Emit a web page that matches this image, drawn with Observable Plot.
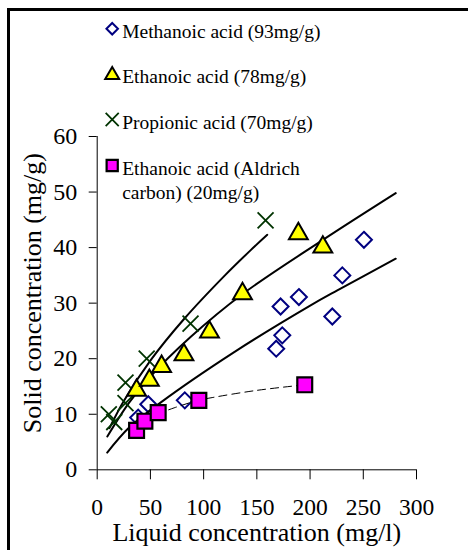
<!DOCTYPE html>
<html><head><meta charset="utf-8">
<script src="https://cdn.jsdelivr.net/npm/d3@7"></script>
<script src="https://cdn.jsdelivr.net/npm/@observablehq/plot@0.6"></script>
<style>
html,body{margin:0;padding:0;background:#fff;width:468px;height:550px;overflow:hidden;}
#wrap{position:relative;width:468px;height:550px;}
#frame{position:absolute;left:7px;top:8px;width:520px;height:620px;border:3px solid #000;box-sizing:border-box;pointer-events:none;}
#chart{position:absolute;left:0;top:0;}
</style></head><body><div id="wrap"><div id="chart"></div><div id="frame"></div></div>
<script>
const xTicks = [0, 50, 100, 150, 200, 250, 300];
const yTicks = [0, 10, 20, 30, 40, 50, 60];
const xLabel = "Liquid concentration (mg/l)";
const yLabel = "Solid concentration (mg/g)";
const seriesNames = [
  "Methanoic acid (93mg/g)",
  "Ethanoic acid (78mg/g)",
  "Propionic acid (70mg/g)",
  "Ethanoic acid (Aldrich\ncarbon) (20mg/g)"
];

// measured points
const methanoicX = [38.5, 48, 82.3, 168.2, 173.9, 172.3, 189.5, 220.9, 230.3, 250.6];
const methanoicY = [9.4, 11.8, 12.5, 21.8, 24.2, 29.4, 31.1, 27.6, 35.0, 41.4];
const ethanoicX = [37, 49, 60.5, 81.5, 105.5, 136.5, 189, 212];
const ethanoicY = [14.3, 16.1, 18.6, 20.7, 24.8, 31.7, 42.5, 40.1];
const propionicX = [10.9, 16, 26.6, 26.6, 46.5, 87.7, 158.2];
const propionicY = [10.0, 8.6, 12.0, 15.7, 20.0, 26.3, 44.9];
const aldrichX = [37, 44.8, 57.3, 95.5, 195];
const aldrichY = [7.1, 8.75, 10.3, 12.5, 15.3];

// fitted curves
const methFitX = [9.4, 30, 59.5, 128, 200.5, 225.6, 280.5];
const methFitY = [3.1, 7.6, 12.1, 21.1, 29.6, 32.3, 38.0];
const ethFitX = [9.5, 30, 50, 87.7, 136.3, 211.4, 280.5];
const ethFitY = [6.0, 12.1, 16.8, 23.9, 31.6, 41.3, 49.8];
const propFitX = [11.5, 25, 50.1, 81.4, 120, 144, 159.8];
const propFitY = [7.5, 12.4, 19.7, 27.1, 35.0, 39.5, 42.3];
const aldFitX = [36, 45, 57, 73, 95, 108, 150, 195];
const aldFitY = [7.3, 8.7, 10.0, 11.2, 12.5, 13.0, 14.3, 15.3];

const pts = (xs, ys) => xs.map((x, i) => ({x, y: ys[i]}));
const FONT = "Liberation Serif";

const styles = [
  {symbol: "diamond2", fill: "none", stroke: "#000080", strokeWidth: 2},
  {symbol: "triangle", fill: "#FFFF00", stroke: "#000", strokeWidth: 2},
  {symbol: "times", fill: "none", stroke: "#003300", strokeWidth: 1.8},
  {symbol: "square", fill: "#FF00FF", stroke: "#000", strokeWidth: 2.2}
];
const plotR = [7.2, 7.0, 7.3, 8.4];
const legendR = [5.2, 5.2, 6.0, 6.3];
const legendRowY = [28.3, 74.5, 119, 165];
const TOP = 136;

const legendMarks = seriesNames.flatMap((name, i) => [
  Plot.dot([name], {frameAnchor: "top-left", dx: 15, dy: legendRowY[i] - TOP, r: legendR[i], ...styles[i]}),
  Plot.text([name], {frameAnchor: "top-left", dx: 25, dy: legendRowY[i] - TOP - 7.6 - (i === 1 ? 1.5 : 0),
    textAnchor: "start", lineAnchor: "top", fontSize: 19.5, lineHeight: 1.24, fill: "#000"})
]);

const chart = Plot.plot({
  width: 468, height: 550,
  marginLeft: 96.7, marginRight: 52, marginTop: TOP, marginBottom: 80.7,
  x: {domain: [0, 300]},
  y: {domain: [0, 60]},
  style: {"font-size": "24px", "overflow": "visible", "color": "#000", "background": "transparent"},
  marks: [
    Plot.ruleY([0], {stroke: "#000", strokeWidth: 1}),
    Plot.ruleX([0], {stroke: "#000", strokeWidth: 1}),
    Plot.axisY({ticks: yTicks, tickSize: 8, tickPadding: 12, fontSize: 24, label: null, tickFormat: d => String(d)}),
    Plot.axisX({ticks: xTicks, tickSize: 10, tickPadding: 19, fontSize: 23.5, label: null, tickFormat: d => String(d)}),
    Plot.dot(pts(methanoicX, methanoicY), {x: "x", y: "y", r: plotR[0], ...styles[0]}),
    Plot.line(pts(methFitX, methFitY), {x: "x", y: "y", curve: "catmull-rom", stroke: "#000", strokeWidth: 2}),
    Plot.line(pts(ethFitX, ethFitY), {x: "x", y: "y", curve: "catmull-rom", stroke: "#000", strokeWidth: 2}),
    Plot.line(pts(propFitX, propFitY), {x: "x", y: "y", curve: "catmull-rom", stroke: "#000", strokeWidth: 2}),
    Plot.line(pts(aldFitX, aldFitY), {x: "x", y: "y", curve: "catmull-rom", stroke: "#000", strokeWidth: 1, strokeDasharray: "8,5"}),
    Plot.dot(pts(propionicX, propionicY), {x: "x", y: "y", r: plotR[2], ...styles[2]}),
    Plot.dot(pts(ethanoicX, ethanoicY), {x: "x", y: "y", r: plotR[1], ...styles[1]}),
    Plot.dot(pts(aldrichX, aldrichY), {x: "x", y: "y", r: plotR[3], ...styles[3]}),
    Plot.text([xLabel], {frameAnchor: "bottom", dy: 63, fontSize: 26, lineAnchor: "middle", textAnchor: "middle", fill: "#000"}),
    Plot.text([yLabel], {frameAnchor: "left", dx: -65, dy: -10, rotate: -90, fontSize: 26, lineAnchor: "middle", textAnchor: "middle", fill: "#000"}),
    ...legendMarks
  ]
});
const sel = d3.select(chart);
sel.selectAll("[font-family]").attr("font-family", null);
sel.attr("font-family", FONT);
sel.selectAll("text").style("font-family", "'Liberation Serif'");
document.getElementById("chart").appendChild(chart);
</script>
</body></html>
